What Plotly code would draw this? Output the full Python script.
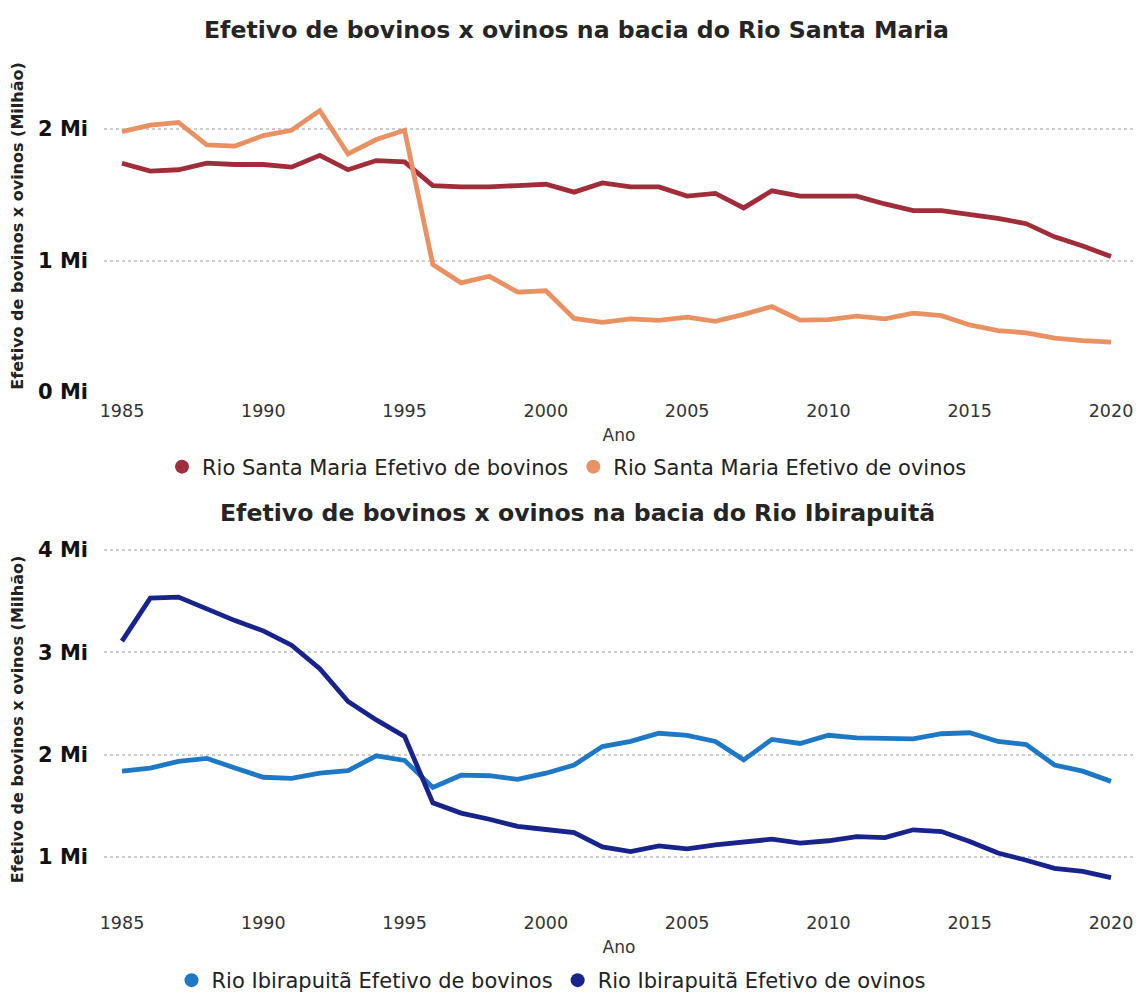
import plotly.graph_objects as go

years = list(range(1985, 2021))

# Rio Santa Maria (milhões de cabeças)
sm_bovinos = [1.74, 1.68, 1.69, 1.74, 1.73, 1.73, 1.71, 1.80, 1.69, 1.76, 1.75,
              1.57, 1.56, 1.56, 1.57, 1.58, 1.52, 1.59, 1.56, 1.56, 1.49, 1.51,
              1.40, 1.53, 1.49, 1.49, 1.49, 1.43, 1.38, 1.38, 1.35, 1.32, 1.28,
              1.18, 1.11, 1.03]
sm_ovinos = [1.98, 2.03, 2.05, 1.88, 1.87, 1.95, 1.99, 2.14, 1.81, 1.92, 1.99,
             0.97, 0.83, 0.88, 0.76, 0.77, 0.56, 0.53, 0.556, 0.544, 0.57, 0.538,
             0.59, 0.65, 0.546, 0.55, 0.577, 0.556, 0.60, 0.58, 0.51, 0.467,
             0.45, 0.41, 0.39, 0.38]

# Rio Ibirapuitã
ib_bovinos = [1.84, 1.87, 1.935, 1.965, 1.87, 1.78, 1.77, 1.82, 1.845, 1.99,
              1.945, 1.68, 1.80, 1.795, 1.76, 1.82, 1.90, 2.08, 2.13, 2.21, 2.19,
              2.13, 1.95, 2.15, 2.11, 2.19, 2.165, 2.165, 2.155, 2.205, 2.215,
              2.13, 2.10, 1.90, 1.84, 1.74]
ib_ovinos = [3.11, 3.53, 3.54, 3.42, 3.31, 3.21, 3.07, 2.84, 2.52, 2.34, 2.18,
             1.53, 1.43, 1.37, 1.30, 1.27, 1.24, 1.10, 1.055, 1.11, 1.08, 1.12,
             1.15, 1.175, 1.137, 1.16, 1.20, 1.19, 1.267, 1.25, 1.153, 1.04,
             0.97, 0.89, 0.86, 0.80]

sm_names = ["Rio Santa Maria Efetivo de bovinos", "Rio Santa Maria Efetivo de ovinos"]
ib_names = ["Rio Ibirapuitã Efetivo de bovinos", "Rio Ibirapuitã Efetivo de ovinos"]
titles = ["Efetivo de bovinos x ovinos na bacia do Rio Santa Maria",
          "Efetivo de bovinos x ovinos na bacia do Rio Ibirapuitã"]
ytitle = "Efetivo de bovinos x ovinos (Milhão)"
top_ticks = [0, 1, 2]
bot_ticks = [1, 2, 3, 4]
year_ticks = list(range(1985, 2021, 5))

c_sm_bov = "rgb(160, 46, 58)"
c_sm_ovi = "rgb(232, 146, 100)"
c_ib_bov = "rgb(30, 120, 196)"
c_ib_ovi = "rgb(24, 36, 140)"

FONT = "DejaVu Sans, Liberation Sans, sans-serif"

# the page body keeps its default 8px margin; work in page pixels
OFF = 8
W, H = 1142 - 2 * OFF, 993


def px(x):
    return min(max((x - OFF) / W, 0), 1)


def py(y):
    return min(max(1 - (y - OFF) / H, 0), 1)


fig = go.Figure()

series = [
    (sm_bovinos, sm_names[0], c_sm_bov, "x", "y", "legend"),
    (sm_ovinos, sm_names[1], c_sm_ovi, "x", "y", "legend"),
    (ib_bovinos, ib_names[0], c_ib_bov, "x2", "y2", "legend2"),
    (ib_ovinos, ib_names[1], c_ib_ovi, "x2", "y2", "legend2"),
]
for vals, name, col, xa, ya, lg in series:
    fig.add_trace(go.Scatter(x=years, y=vals, mode="lines", name=name,
                             line=dict(color=col, width=4.8),
                             xaxis=xa, yaxis=ya, showlegend=False))
    # legend entry with a circle marker, as in the original
    fig.add_trace(go.Scatter(x=[None], y=[None], mode="markers", name=name,
                             marker=dict(color=col, size=14, symbol="circle"),
                             xaxis=xa, yaxis=ya, legend=lg))

x_first, x_last = 122, 1111          # page x of 1985 and 2020
ppy = (x_last - x_first) / 35
x_left, x_right = 104, 1134
xdom = [px(x_left), px(x_right)]
xr = [1985 - (x_first - x_left) / ppy, 2020 + (x_right - x_last) / ppy]

xcommon = dict(range=xr, domain=xdom, tickvals=year_ticks, automargin=False,
               ticklabeloverflow="allow", ticklabelstandoff=6,
               showgrid=False, zeroline=False, showline=False, ticks="",
               tickfont=dict(size=17.5, color="#333333", family=FONT),
               title=dict(text="Ano", font=dict(size=17, color="#333333", family=FONT),
                          standoff=9))
ycommon = dict(showgrid=True, gridcolor="#cccccc", griddash="dot", gridwidth=1.5,
               automargin=False, ticklabeloverflow="allow",
               zeroline=False, showline=False, ticks="", ticklabelstandoff=15,
               tickfont=dict(size=21, color="#111111", family=FONT, weight="bold"),
               title=dict(text=ytitle, font=dict(size=16, color="#222222",
                                                 family=FONT, weight="bold"),
                          standoff=12))

top_pm = 131.5   # px per million, upper chart
bot_pm = 102.7   # px per million, lower chart

fig.update_layout(
    width=W, height=H,
    margin=dict(l=0, r=0, t=0, b=0),
    paper_bgcolor="white", plot_bgcolor="white",
    font=dict(family=FONT),
    xaxis=dict(anchor="y", **xcommon),
    yaxis=dict(anchor="x", domain=[py(392), py(60)],
               range=[0, (392 - 60) / top_pm], tickvals=top_ticks,
               ticktext=[f"{v} Mi" for v in top_ticks], **ycommon),
    xaxis2=dict(anchor="y2", **xcommon),
    yaxis2=dict(anchor="x2", domain=[py(904), py(535)],
                range=[1 - (904 - 857) / bot_pm, 4 + (550 - 535) / bot_pm],
                tickvals=bot_ticks, ticktext=[f"{v} Mi" for v in bot_ticks],
                **ycommon),
    legend=dict(orientation="h", x=px(567), xanchor="center", y=py(467),
                yanchor="middle", font=dict(size=21, color="#222222", family=FONT),
                itemwidth=30, tracegroupgap=0),
    # kept inside the figure so it does not push the margins
    legend2=dict(orientation="h", x=px(551), xanchor="center", y=0,
                 yanchor="bottom", font=dict(size=21, color="#222222", family=FONT),
                 itemwidth=30, tracegroupgap=0),
    annotations=[
        dict(text="<b>" + titles[0] + "</b>", x=px(576), y=py(30),
             xref="paper", yref="paper", showarrow=False, xanchor="center",
             yanchor="middle", font=dict(size=23.6, color="#252525", family=FONT)),
        dict(text="<b>" + titles[1] + "</b>", x=px(577), y=py(513),
             xref="paper", yref="paper", showarrow=False, xanchor="center",
             yanchor="middle", font=dict(size=23.6, color="#252525", family=FONT)),
    ],
)

fig.write_html("out.html")
